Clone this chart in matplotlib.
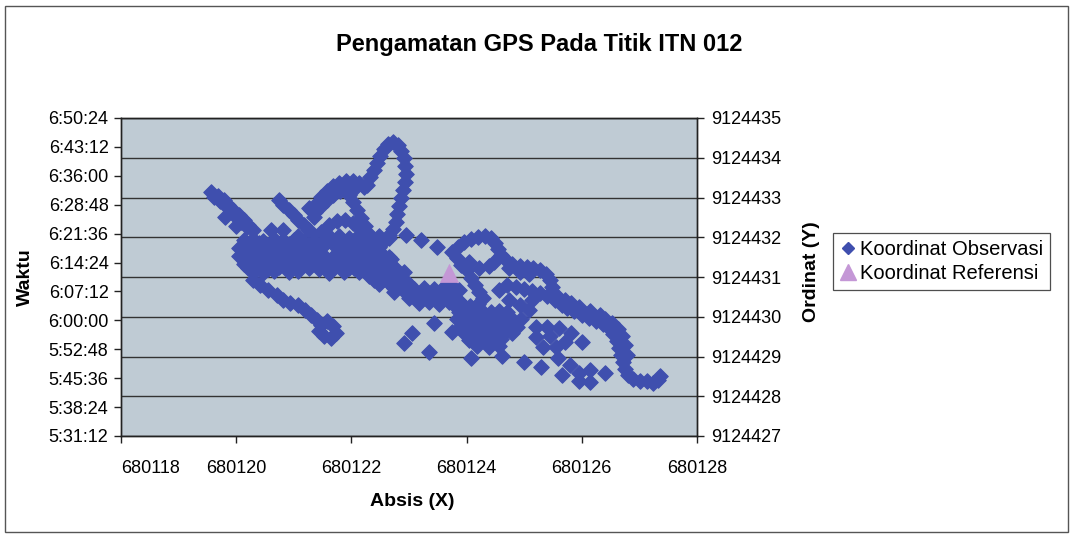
import matplotlib.pyplot as plt
from matplotlib.lines import Line2D
from matplotlib.patches import Rectangle

plt.rcParams["font.family"] = ["Liberation Sans", "DejaVu Sans"]

TITLE = "Pengamatan GPS Pada Titik ITN 012"

# observed GPS fixes: easting (X) and northing (Y), metres
OBS_EASTING = [
    680119.57, 680119.69, 680119.78, 680119.86, 680119.95, 680120.04, 680120.13, 680120.21, 680120.30,
    680119.62, 680119.72, 680119.83, 680119.92, 680120.00, 680120.09, 680120.18,
    680119.81, 680119.99, 680120.61, 680120.82,
    680120.74, 680120.82, 680120.91, 680121.00, 680121.08, 680121.17, 680121.26, 680121.26, 680121.35,
    680121.29, 680121.40, 680121.48, 680121.57, 680121.68, 680121.78, 680121.90, 680122.02, 680122.13, 680122.22,
    680121.36, 680121.47, 680121.57, 680121.68, 680121.80, 680121.92, 680122.04,
    680121.95, 680122.02, 680122.09, 680122.16, 680122.23, 680122.30, 680122.39,
    680121.35, 680121.47, 680121.61, 680121.75, 680121.89, 680122.02, 680122.15, 680122.27,
    680121.78, 680121.95, 680122.13, 680122.48, 680122.65, 680121.61, 680121.52, 680121.08,
    680122.27, 680122.32, 680122.39, 680122.44, 680122.50, 680122.56, 680122.63, 680122.72, 680122.81, 680122.86, 680122.91, 680122.93,
    680122.95, 680122.93, 680122.90, 680122.86, 680122.83, 680122.79, 680122.77, 680122.72, 680122.65, 680122.56, 680122.48,
    680120.13, 680120.30, 680120.47, 680120.65, 680120.82, 680121.00, 680121.17,
    680120.21, 680120.39, 680120.56, 680120.74, 680120.91, 680121.08, 680121.35, 680121.52,
    680120.04, 680120.21, 680120.39, 680120.56, 680120.74, 680120.91, 680121.08, 680121.26, 680121.43,
    680120.13, 680120.30, 680120.47, 680120.65, 680120.82, 680121.00, 680121.17, 680121.35,
    680120.04, 680120.21, 680120.39, 680120.56, 680120.74, 680120.91, 680121.08, 680121.52, 680121.69,
    680120.13, 680120.30, 680120.47, 680120.65, 680120.82, 680121.00, 680121.17, 680121.35, 680121.61,
    680120.13, 680120.30, 680120.47, 680120.65, 680120.82, 680121.00, 680121.17, 680121.43, 680121.61, 680121.78,
    680120.21, 680120.39, 680120.56, 680120.74, 680120.91, 680121.08, 680121.26, 680121.43, 680121.69, 680121.95,
    680120.30, 680120.47, 680120.65, 680120.91, 680121.08, 680121.61, 680121.87,
    680120.30, 680120.42, 680120.56, 680120.70, 680120.82, 680120.94, 680121.08, 680121.19, 680121.29, 680121.40,
    680121.47, 680121.57, 680121.68, 680121.73, 680121.64, 680121.52, 680121.43,
    680121.69, 680121.87, 680122.04, 680122.22,
    680121.78, 680121.95, 680122.13, 680122.30, 680122.48,
    680121.95, 680122.13, 680122.30, 680122.48, 680122.65,
    680121.87, 680122.04, 680122.22, 680122.39, 680122.56, 680122.69,
    680122.13, 680122.30, 680122.48, 680122.65,
    680122.04, 680122.22, 680122.39, 680122.56, 680122.74,
    680122.13, 680122.39, 680122.56, 680122.74, 680122.91,
    680122.30, 680122.48, 680122.65, 680122.83,
    680122.39, 680122.56, 680122.74, 680122.91,
    680122.48, 680122.65, 680122.83, 680123.00,
    680122.74, 680122.91, 680123.09, 680123.26, 680123.44, 680123.61,
    680122.74, 680122.91, 680123.09, 680123.26,
    680123.00, 680123.17, 680123.35, 680123.52,
    680123.17, 680123.35, 680123.52, 680123.70,
    680122.95, 680123.21, 680123.49,
    680123.65, 680123.78, 680123.91, 680123.73, 680123.87,
    680123.84, 680123.91, 680124.01, 680124.08, 680124.15, 680124.22, 680124.29,
    680123.75, 680123.85, 680123.96, 680124.08, 680124.20, 680124.32, 680124.43, 680124.50, 680124.55, 680124.60, 680124.69,
    680124.79, 680124.92, 680125.04, 680125.16, 680125.27, 680125.37, 680125.44, 680125.49, 680125.53, 680125.54,
    680124.05, 680124.22, 680124.39, 680124.48, 680124.74, 680124.92, 680125.09,
    680124.57, 680124.71, 680124.85, 680124.99, 680125.13, 680125.27, 680125.40,
    680125.65, 680125.75, 680125.87, 680126.00, 680126.12, 680126.24, 680126.36, 680126.47, 680126.55, 680126.61, 680126.64,
    680126.68, 680126.71, 680126.75, 680126.80, 680126.89, 680127.01, 680127.13, 680127.23, 680127.32, 680127.36,
    680125.70, 680125.82, 680125.96, 680126.15, 680126.31, 680126.40, 680126.52, 680126.62, 680126.69, 680126.75, 680126.78,
    680123.78, 680123.92, 680124.06, 680124.20,
    680123.87, 680124.01, 680124.15, 680124.29, 680124.43, 680124.57, 680124.71,
    680123.84, 680123.98, 680124.12, 680124.25, 680124.39, 680124.53, 680124.67, 680124.81, 680124.95,
    680123.91, 680124.05, 680124.18, 680124.32, 680124.46, 680124.60, 680124.74, 680124.88,
    680123.96, 680124.10, 680124.24, 680124.38, 680124.52, 680124.66, 680124.79,
    680124.05, 680124.18, 680124.32, 680124.46, 680124.60,
    680124.18, 680124.39, 680124.57,
    680124.74, 680124.92, 680125.09, 680125.14,
    680122.91, 680123.05, 680123.35, 680123.44, 680123.75, 680124.08, 680124.62, 680125.00, 680125.30,
    680125.65, 680125.96, 680126.14, 680126.40, 680125.96, 680126.14, 680125.79, 680125.58, 680125.21,
    680125.39, 680125.61, 680125.82, 680126.01, 680125.32, 680125.56, 680125.70, 680125.44, 680125.21,
]
OBS_NORTHING = [
    9124433.14, 9124433.04, 9124432.94, 9124432.81, 9124432.69, 9124432.56, 9124432.43, 9124432.31, 9124432.18,
    9124433.01, 9124432.91, 9124432.79, 9124432.66, 9124432.51, 9124432.38, 9124432.26,
    9124432.51, 9124432.28, 9124432.18, 9124432.18,
    9124432.94, 9124432.81, 9124432.69, 9124432.56, 9124432.43, 9124432.31, 9124432.18, 9124432.74, 9124432.51,
    9124432.69, 9124432.86, 9124433.01, 9124433.16, 9124433.29, 9124433.37, 9124433.42, 9124433.42, 9124433.37, 9124433.26,
    9124432.64, 9124432.79, 9124432.94, 9124433.06, 9124433.16, 9124433.21, 9124433.21,
    9124433.06, 9124432.89, 9124432.69, 9124432.48, 9124432.28, 9124432.08, 9124431.88,
    9124431.93, 9124432.13, 9124432.31, 9124432.41, 9124432.43, 9124432.36, 9124432.21, 9124432.03,
    9124432.03, 9124431.98, 9124432.05, 9124432.02, 9124431.97, 9124432.03, 9124431.93, 9124432.03,
    9124433.31, 9124433.52, 9124433.69, 9124433.87, 9124434.04, 9124434.22, 9124434.35, 9124434.40, 9124434.32, 9124434.17, 9124433.99, 9124433.79,
    9124433.59, 9124433.39, 9124433.19, 9124432.99, 9124432.79, 9124432.58, 9124432.38, 9124432.21, 9124432.06, 9124431.91, 9124431.75,
    9124431.93, 9124431.95, 9124431.91, 9124431.96, 9124431.92, 9124431.94, 9124431.90,
    9124431.83, 9124431.85, 9124431.81, 9124431.84, 9124431.82, 9124431.85, 9124431.83, 9124431.81,
    9124431.73, 9124431.70, 9124431.75, 9124431.72, 9124431.74, 9124431.71, 9124431.76, 9124431.73, 9124431.70,
    9124431.63, 9124431.65, 9124431.61, 9124431.64, 9124431.62, 9124431.66, 9124431.63, 9124431.60,
    9124431.53, 9124431.55, 9124431.51, 9124431.54, 9124431.50, 9124431.53, 9124431.55, 9124431.52, 9124431.54,
    9124431.43, 9124431.45, 9124431.41, 9124431.44, 9124431.42, 9124431.46, 9124431.43, 9124431.44, 9124431.41,
    9124431.33, 9124431.30, 9124431.35, 9124431.32, 9124431.34, 9124431.31, 9124431.33, 9124431.36, 9124431.32, 9124431.34,
    9124431.23, 9124431.25, 9124431.21, 9124431.24, 9124431.22, 9124431.25, 9124431.23, 9124431.21, 9124431.24, 9124431.22,
    9124431.13, 9124431.10, 9124431.15, 9124431.12, 9124431.14, 9124431.11, 9124431.13,
    9124430.92, 9124430.80, 9124430.67, 9124430.55, 9124430.42, 9124430.35, 9124430.30, 9124430.17, 9124430.04, 9124429.92,
    9124429.79, 9124429.89, 9124429.77, 9124429.59, 9124429.47, 9124429.52, 9124429.64,
    9124431.81, 9124431.83, 9124431.80, 9124431.82,
    9124431.63, 9124431.61, 9124431.64, 9124431.62, 9124431.65,
    9124431.53, 9124431.55, 9124431.52, 9124431.54, 9124431.51,
    9124431.43, 9124431.45, 9124431.41, 9124431.44, 9124431.42, 9124431.46,
    9124431.33, 9124431.35, 9124431.31, 9124431.34,
    9124431.23, 9124431.21, 9124431.25, 9124431.22, 9124431.24,
    9124431.13, 9124431.15, 9124431.11, 9124431.14, 9124431.12,
    9124431.03, 9124431.05, 9124431.01, 9124431.04,
    9124430.92, 9124430.94, 9124430.90, 9124430.93,
    9124430.82, 9124430.84, 9124430.80, 9124430.83,
    9124430.72, 9124430.74, 9124430.70, 9124430.73, 9124430.71, 9124430.74,
    9124430.62, 9124430.64, 9124430.60, 9124430.63,
    9124430.47, 9124430.45, 9124430.48, 9124430.46,
    9124430.35, 9124430.37, 9124430.33, 9124430.36,
    9124432.06, 9124431.93, 9124431.75,
    9124430.62, 9124430.52, 9124430.35, 9124430.80, 9124430.67,
    9124431.48, 9124431.30, 9124431.18, 9124430.98, 9124430.80, 9124430.62, 9124430.47,
    9124431.63, 9124431.75, 9124431.88, 9124431.96, 9124432.01, 9124432.03, 9124431.98, 9124431.86, 9124431.70, 9124431.55, 9124431.43,
    9124431.33, 9124431.28, 9124431.25, 9124431.23, 9124431.18, 9124431.08, 9124430.92, 9124430.75, 9124430.57, 9124430.42,
    9124431.38, 9124431.23, 9124431.28, 9124431.38, 9124431.23, 9124431.13, 9124431.08,
    9124430.67, 9124430.80, 9124430.75, 9124430.70, 9124430.65, 9124430.60, 9124430.52,
    9124430.30, 9124430.22, 9124430.14, 9124430.04, 9124429.97, 9124429.89, 9124429.82, 9124429.72, 9124429.57, 9124429.39, 9124429.21,
    9124429.04, 9124428.86, 9124428.69, 9124428.53, 9124428.43, 9124428.38, 9124428.38, 9124428.33, 9124428.41, 9124428.51,
    9124430.42, 9124430.35, 9124430.25, 9124430.14, 9124430.04, 9124429.94, 9124429.84, 9124429.69, 9124429.52, 9124429.29, 9124429.04,
    9124430.30, 9124430.32, 9124430.28, 9124430.31,
    9124430.12, 9124430.14, 9124430.10, 9124430.13, 9124430.11, 9124430.15, 9124430.12,
    9124429.94, 9124429.96, 9124429.92, 9124429.95, 9124429.93, 9124429.97, 9124429.94, 9124429.91, 9124429.95,
    9124429.77, 9124429.75, 9124429.79, 9124429.76, 9124429.78, 9124429.74, 9124429.77, 9124429.75,
    9124429.59, 9124429.61, 9124429.57, 9124429.60, 9124429.58, 9124429.62, 9124429.59,
    9124429.42, 9124429.40, 9124429.44, 9124429.41, 9124429.43,
    9124429.26, 9124429.24, 9124429.27,
    9124430.42, 9124430.30, 9124430.17, 9124430.42,
    9124429.34, 9124429.59, 9124429.11, 9124429.84, 9124429.62, 9124428.96, 9124429.01, 9124428.86, 9124428.74,
    9124428.53, 9124428.38, 9124428.36, 9124428.58, 9124428.58, 9124428.66, 9124428.79, 9124428.96, 9124429.74,
    9124429.74, 9124429.72, 9124429.59, 9124429.36, 9124429.24, 9124429.24, 9124429.36, 9124429.52, 9124429.49,
]
assert len(OBS_EASTING) == len(OBS_NORTHING)

# reference coordinate of the benchmark
REF_EASTING = [680123.70]
REF_NORTHING = [9124431.10]

X_TICKS = [680118, 680120, 680122, 680124, 680126, 680128]
Y_TICKS = [9124427, 9124428, 9124429, 9124430, 9124431, 9124432, 9124433, 9124434, 9124435]
TIME_LABELS = ["5:31:12", "5:38:24", "5:45:36", "5:52:48", "6:00:00", "6:07:12",
               "6:14:24", "6:21:36", "6:28:48", "6:36:00", "6:43:12", "6:50:24"]

OBS_COLOR = "#3f4fae"
REF_COLOR = "#c497d6"
PLOT_BG = "#bfcbd4"


def to_seconds(label):
    h, m, s = (int(p) for p in label.split(":"))
    return h * 3600 + m * 60 + s


time_secs = [to_seconds(t) for t in TIME_LABELS]

fig = plt.figure(figsize=(10.73, 5.38), dpi=100)
fig.patch.set_facecolor("white")
fig.add_artist(Rectangle((5 / 1073, 6 / 538), 1063 / 1073, 526 / 538,
                         transform=fig.transFigure, fill=False,
                         edgecolor="#555555", linewidth=1.0))

ax = fig.add_axes([121 / 1073, 1 - 436 / 538, 576 / 1073, 318 / 538])
ax.set_facecolor(PLOT_BG)
ax.set_xlim(X_TICKS[0], X_TICKS[-1])
ax.set_xticks(X_TICKS)
ax.set_xticklabels([str(v) for v in X_TICKS])
ax.get_xticklabels()[0].set_horizontalalignment("left")
ax.set_ylim(time_secs[0], time_secs[-1])
ax.set_yticks(time_secs)
ax.set_yticklabels(TIME_LABELS)
ax.tick_params(axis="both", labelsize=13, direction="out", length=5, width=1, color="#222222")
ax.tick_params(axis="x", pad=12)
ax.tick_params(axis="y", pad=4)

ax2 = ax.twinx()
ax2.set_ylim(Y_TICKS[0], Y_TICKS[-1])
ax2.set_yticks(Y_TICKS)
ax2.set_yticklabels([str(v) for v in Y_TICKS])
ax2.tick_params(axis="y", labelsize=13, direction="out", length=5, width=1, color="#222222", pad=5)
ax2.grid(axis="y", color="#333333", linewidth=1.0)
ax2.set_axisbelow(True)

for a in (ax, ax2):
    for sp in a.spines.values():
        sp.set_color("#222222")
        sp.set_linewidth(1.0)

ax2.scatter(OBS_EASTING, OBS_NORTHING, marker="D", s=62, color=OBS_COLOR,
            edgecolors=OBS_COLOR, linewidths=0.8, zorder=3)
ax2.scatter(REF_EASTING, REF_NORTHING, marker="^", s=170, color=REF_COLOR,
            edgecolors=REF_COLOR, linewidths=0.5, zorder=4)

fig.text(0.503, 1 - 45 / 538, TITLE, ha="center", va="center", fontsize=17, fontweight="bold")
fig.text(25 / 1073, 1 - 277 / 538, "Waktu", rotation=90, ha="center", va="center",
         fontsize=14, fontweight="bold")
fig.text(412 / 1073, 1 - 502 / 538, "Absis (X)", ha="center", va="center",
         fontsize=14, fontweight="bold")
fig.text(812 / 1073, 1 - 272 / 538, "Ordinat (Y)", rotation=90, ha="center", va="center",
         fontsize=14, fontweight="bold")

handles = [
    Line2D([], [], linestyle="none", marker="D", markersize=6, color=OBS_COLOR),
    Line2D([], [], linestyle="none", marker="^", markersize=11, color=REF_COLOR),
]
leg = fig.legend(handles, ["Koordinat Observasi", "Koordinat Referensi"],
                 loc="upper left", bbox_to_anchor=(833 / 1073, 1 - 233 / 538),
                 fontsize=14.5, frameon=True, fancybox=False, handlelength=0.8,
                 handletextpad=0.2, borderpad=0.35, labelspacing=0.25, borderaxespad=0)
leg.get_frame().set_edgecolor("#222222")
leg.get_frame().set_linewidth(0.9)

fig.savefig("out.png", dpi=100)
